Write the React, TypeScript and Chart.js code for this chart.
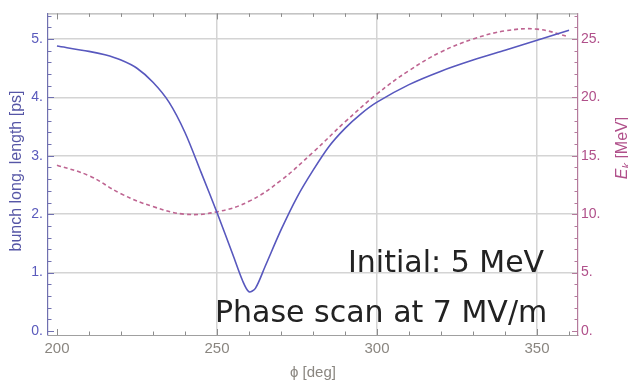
import React, { useEffect, useRef } from "react";
import { Chart, registerables } from "chart.js";
Chart.register(...registerables);

// phase [deg] and bunch longitudinal length [ps]
const phiBunch = [200, 210, 215, 220, 225, 230, 235, 240, 245, 250, 255, 258, 260, 262, 265, 270, 275, 280, 285, 290, 295, 300, 310, 320, 330, 340, 350, 360];
const bunchLength = [4.88, 4.79, 4.73, 4.64, 4.5, 4.26, 3.92, 3.4, 2.72, 2.03, 1.3, 0.86, 0.67, 0.73, 1.1, 1.73, 2.29, 2.75, 3.16, 3.47, 3.72, 3.92, 4.22, 4.45, 4.64, 4.81, 4.98, 5.15];
// phase [deg] and kinetic energy [MeV]
const phiEnergy = [200, 210, 220, 230, 240, 250, 260, 270, 280, 290, 300, 310, 320, 330, 340, 350, 360];
const energyK = [14.2, 13.3, 11.75, 10.65, 10.0, 10.2, 11.1, 12.9, 15.3, 17.9, 20.3, 22.3, 23.9, 25.0, 25.7, 25.85, 25.2];

const xTicks = [200, 250, 300, 350];
const leftTicks = [0, 1, 2, 3, 4, 5];
const rightTicks = [0, 5, 10, 15, 20, 25];

const X_MIN = 197.2, X_MAX = 362.8;
const L_MIN = -0.07, L_MAX = 5.44;

const decor = {
  id: "decor",
  afterDraw(chart: any) {
    const ctx = chart.ctx;
    const { left, right, top, bottom } = chart.chartArea;
    const xs = chart.scales.x, yl = chart.scales.y, yr = chart.scales.y1;
    ctx.save();
    // top frame
    ctx.strokeStyle = "#a0a0a0";
    ctx.lineWidth = 1;
    ctx.beginPath();
    ctx.moveTo(left, top + 0.5);
    ctx.lineTo(right, top + 0.5);
    ctx.stroke();
    // inward ticks on x (bottom & top)
    ctx.strokeStyle = "#8c8c8c";
    for (let v = 200; v <= 360; v += 10) {
      const px = Math.round(xs.getPixelForValue(v)) + 0.5;
      const len = v % 50 === 0 ? 6 : 3.5;
      ctx.beginPath();
      ctx.moveTo(px, bottom);
      ctx.lineTo(px, bottom - len);
      ctx.moveTo(px, top);
      ctx.lineTo(px, top + len);
      ctx.stroke();
    }
    // left ticks
    ctx.strokeStyle = "#7070b0";
    for (let i = 0; i <= 27; i++) {
      const v = i * 0.2;
      const py = Math.round(yl.getPixelForValue(v)) + 0.5;
      const len = i % 5 === 0 ? 6 : 3.5;
      ctx.beginPath();
      ctx.moveTo(left, py);
      ctx.lineTo(left + len, py);
      ctx.stroke();
    }
    // right ticks
    ctx.strokeStyle = "#b47a9c";
    for (let v = 0; v <= 27; v += 1) {
      const py = Math.round(yr.getPixelForValue(v)) + 0.5;
      const len = v % 5 === 0 ? 6 : 3.5;
      ctx.beginPath();
      ctx.moveTo(right, py);
      ctx.lineTo(right - len, py);
      ctx.stroke();
    }
    // axis titles
    ctx.fillStyle = "#5656a6";
    ctx.font = "16px 'Liberation Sans', Arial, sans-serif";
    ctx.textAlign = "center";
    ctx.textBaseline = "middle";
    ctx.save();
    ctx.translate(17, 171);
    ctx.rotate(-Math.PI / 2);
    ctx.fillText("bunch long. length [ps]", 0, 0);
    ctx.restore();

    // E_k [MeV]
    ctx.save();
    ctx.translate(621, 148);
    ctx.rotate(-Math.PI / 2);
    ctx.fillStyle = "#b0508a";
    const fItal = "italic 16px 'Liberation Sans', Arial, sans-serif";
    const fSub = "italic 11px 'Liberation Sans', Arial, sans-serif";
    const fReg = "16px 'Liberation Sans', Arial, sans-serif";
    ctx.font = fItal; const wE = ctx.measureText("E").width;
    ctx.font = fSub; const wK = ctx.measureText("k").width;
    ctx.font = fReg; const wR = ctx.measureText(" [MeV]").width;
    const tot = wE + wK + wR;
    let cx = -tot / 2;
    ctx.textAlign = "left";
    ctx.textBaseline = "alphabetic";
    ctx.font = fItal; ctx.fillText("E", cx, 6); cx += wE;
    ctx.font = fSub; ctx.fillText("k", cx, 9); cx += wK;
    ctx.font = fReg; ctx.fillText(" [MeV]", cx, 6);
    ctx.restore();

    // x title
    ctx.fillStyle = "#8a8680";
    ctx.textAlign = "center";
    ctx.textBaseline = "middle";
    ctx.font = "15px 'Liberation Sans', Arial, sans-serif";
    ctx.fillText("\u03D5 [deg]", 313, 373);

    // annotations
    ctx.fillStyle = "#222222";
    ctx.textAlign = "left";
    ctx.textBaseline = "alphabetic";
    ctx.font = "30px 'DejaVu Sans', sans-serif";
    ctx.fillText("Initial: 5 MeV", 348, 272);
    ctx.fillText("Phase scan at 7 MV/m", 215, 322);
    ctx.restore();
  },
};

export default function App() {
  const ref = useRef<HTMLCanvasElement | null>(null);
  useEffect(() => {
    if (!ref.current) return;
    const chart = new Chart(ref.current, {
      type: "line",
      data: {
        datasets: [
          {
            label: "bunch long. length",
            data: phiBunch.map((x, i) => ({ x, y: bunchLength[i] })),
            borderColor: "rgb(88,88,190)",
            borderWidth: 1.6,
            pointRadius: 0,
            fill: false,
            tension: 0.3,
            yAxisID: "y",
          },
          {
            label: "Ek",
            data: phiEnergy.map((x, i) => ({ x, y: energyK[i] })),
            borderColor: "rgb(190,100,145)",
            borderWidth: 1.6,
            borderDash: [4, 3],
            pointRadius: 0,
            fill: false,
            tension: 0.4,
            yAxisID: "y1",
          },
        ],
      },
      options: {
        animation: false,
        responsive: false,
        maintainAspectRatio: false,
        layout: { padding: { top: 8, left: 0, right: 0, bottom: 0 } },
        plugins: { legend: { display: false }, tooltip: { enabled: false } },
        scales: {
          x: {
            type: "linear",
            min: X_MIN,
            max: X_MAX,
            afterBuildTicks: (s: any) => { s.ticks = xTicks.map((value) => ({ value })); },
            afterFit: (s: any) => { s.height = 53; },
            ticks: {
              color: "#8a8680",
              font: { size: 15, family: "'Liberation Sans', Arial, sans-serif" },
              padding: 5,
              maxRotation: 0,
              callback: (v: any) => String(v),
            },
            grid: {
              drawTicks: false,
              color: (c: any) => (c.tick && c.tick.value === 200 ? "rgba(0,0,0,0)" : "#d4d4d4"),
              lineWidth: 1.5,
            },
            border: { color: "#a0a0a0", width: 1 },
          },
          y: {
            type: "linear",
            position: "left",
            min: L_MIN,
            max: L_MAX,
            afterBuildTicks: (s: any) => { s.ticks = leftTicks.map((value) => ({ value })); },
            afterFit: (s: any) => { s.width = 48; },
            ticks: {
              color: "#5a5abc",
              font: { size: 14, family: "'Liberation Sans', Arial, sans-serif" },
              padding: 5,
              callback: (v: any) => `${v}.`,
            },
            grid: {
              drawTicks: false,
              color: (c: any) => (c.tick && c.tick.value === 0 ? "rgba(0,0,0,0)" : "#d4d4d4"),
              lineWidth: 1.5,
            },
            border: { color: "#7070b0", width: 1.2 },
          },
          y1: {
            type: "linear",
            position: "right",
            min: L_MIN * 5,
            max: L_MAX * 5,
            afterBuildTicks: (s: any) => { s.ticks = rightTicks.map((value) => ({ value })); },
            afterFit: (s: any) => { s.width = 50; },
            ticks: {
              color: "#b0508a",
              font: { size: 14, family: "'Liberation Sans', Arial, sans-serif" },
              padding: 3,
              callback: (v: any) => `${v}.`,
            },
            grid: { display: false, drawTicks: false },
            border: { color: "#b47a9c", width: 1.2 },
          },
        },
      },
      plugins: [decor],
    } as any);
    return () => chart.destroy();
  }, []);
  return (
    <div style={{ position: "fixed", left: 0, top: 0, width: 628, height: 388, background: "#fff" }}>
      <canvas ref={ref} width={628} height={388} style={{ width: 628, height: 388, display: "block" }} />
    </div>
  );
}
